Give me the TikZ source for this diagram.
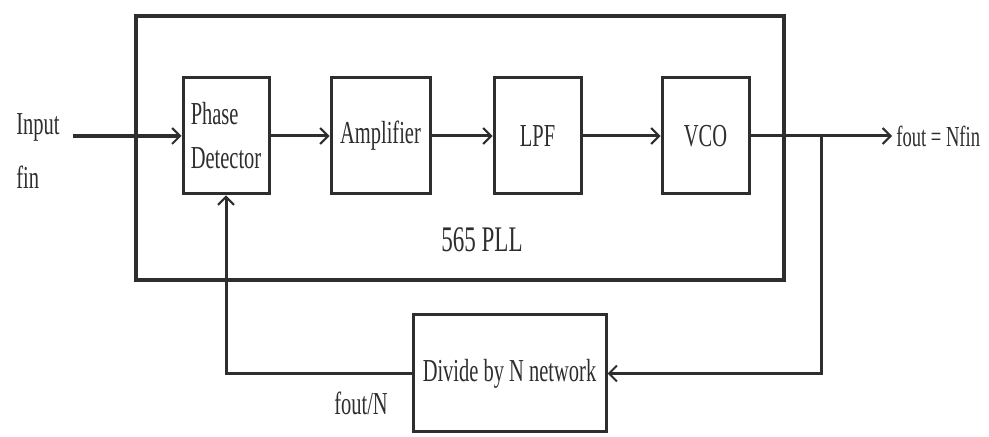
\documentclass[tikz,border=0pt]{standalone}
\usepackage{fontspec}
\setmainfont{Liberation Serif}[FakeStretch=0.64]
\usepackage{xcolor}
\usetikzlibrary{positioning, arrows.meta}
\definecolor{ink}{HTML}{2E2E2E}

\begin{document}
\begin{tikzpicture}[x=0.5pt, y=-0.5pt,
      block/.style={draw=ink, line width=1.5pt, minimum width=43pt, minimum height=58pt,
                    inner sep=1pt, font=\fontsize{16}{22}\selectfont, text=ink},
      wire/.style={ink, line width=1.5pt},
      arrow/.style={wire, -{Straight Barb[length=4pt, width=8pt, line width=1pt]}},
      lbl/.style={text=ink, font=\fontsize{16}{27}\selectfont}]
    \fill[white] (0,0) rectangle (989,437);
    \useasboundingbox (0,0) rectangle (989,437);
    % the 565 chip
    \node[draw=ink, line width=1.7pt, minimum width=324pt, minimum height=132pt] (pll) at (460,148) {};
    \node[lbl, font=\fontsize{18}{18}\selectfont] (name) at (482,240) {565 PLL};
    \node[block, align=left]                           (pd)  at (226,136) {Phase\\Detector};
    \node[block, minimum width=49.5pt, right=29.5pt of pd]  (amp) {Amplifier};
    \node[block, minimum width=43.5pt, right=30.5pt of amp] (lpf) {LPF};
    \node[block, minimum width=43.5pt, right=39pt of lpf]   (vco) {VCO};
    % outside
    \node[lbl, align=left] (in) at (38,151) {Input\\fin};
    \node[lbl, right, inner sep=2pt, font=\fontsize{14.5}{16}\selectfont] (fo) at (892,136) {fout = Nfin};
    \node[block, minimum width=96.5pt, minimum height=58.5pt] (div) at (509.5,373.5) {Divide by N network};
    \node[lbl]             (fn) at (361,403) {fout/N};
    \coordinate (br) at (821,136);
    \draw[arrow, line width=2.3pt, shorten <=3pt] (in.east |- pd.west) -- (pd.west);
    \draw[arrow] (pd)  -- (amp);
    \draw[arrow] (amp) -- (lpf);
    \draw[arrow] (lpf) -- (vco);
    \draw[arrow] (vco) -- (fo.west);
    \draw[arrow] (br) |- (div.east);
    \draw[arrow] (div.west) -| (pd.south);
  \end{tikzpicture}
\end{document}
